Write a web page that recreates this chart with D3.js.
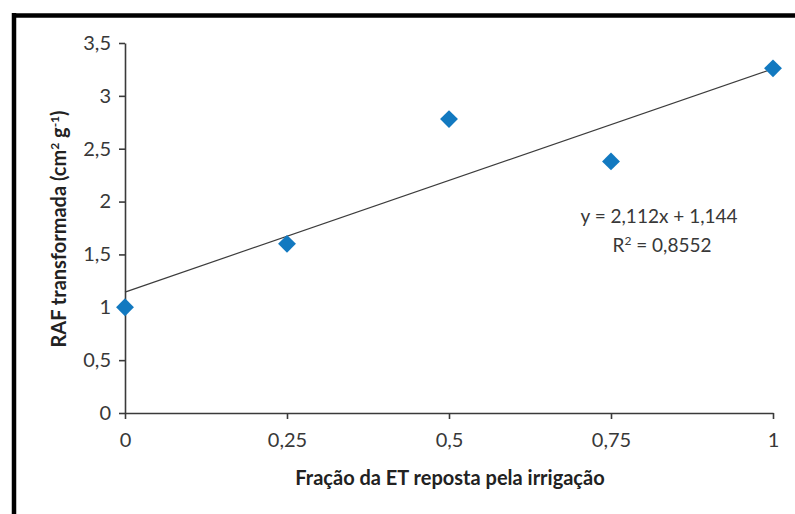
<!DOCTYPE html>
<html>
<head>
<meta charset="utf-8">
<script src="https://cdn.jsdelivr.net/npm/d3@7"></script>
<style>
  html, body { margin: 0; padding: 0; background: #fff; }
  svg { display: block; }
</style>
</head>
<body>
<svg id="chart" width="795" height="514"></svg>
<script>
// ---- data ----
const fractions = [0, 0.25, 0.5, 0.75, 1];
const rafValues = [1.0, 1.6, 2.78, 2.38, 3.26];
const xTicks = [0, 0.25, 0.5, 0.75, 1];
const yTicks = [0, 0.5, 1, 1.5, 2, 2.5, 3, 3.5];
const trendCoef = [2.112, 1.144]; // slope, intercept
const equationLines = ["y = 2,112x + 1,144", "0,8552"];
const xTitle = "Fração da ET reposta pela irrigação";
const yTitleParts = ["RAF transformada (cm", "2", " g", "-1", ")"];

const svg = d3.select("#chart");
const fmt = v => String(v).replace(".", ",");

// frame (thick black border at left and top)
svg.append("rect").attr("x", 0).attr("y", 0).attr("width", 795).attr("height", 514).attr("fill", "#fff");
svg.append("line").attr("x1", 14).attr("x2", 14).attr("y1", 13).attr("y2", 514)
  .attr("stroke", "#000").attr("stroke-width", 4.5);
svg.append("line").attr("x1", 12).attr("x2", 795).attr("y1", 15.5).attr("y2", 15.5)
  .attr("stroke", "#000").attr("stroke-width", 4.5);

const x = d3.scaleLinear().domain([0, 1]).range([125, 773]);
const y = d3.scaleLinear().domain([0, 3.5]).range([413, 43]);

const font = "Lato, 'Open Sans', sans-serif";
const axisColor = "#3a3a3a";

// y axis
const yAxis = svg.append("g").attr("transform", `translate(${x(0)},0)`)
  .call(d3.axisLeft(y).tickValues(yTicks).tickFormat(fmt).tickSize(6).tickSizeOuter(0).tickPadding(8));
// x axis
const xAxis = svg.append("g").attr("transform", `translate(0,${y(0)})`)
  .call(d3.axisBottom(x).tickValues(xTicks).tickFormat(fmt).tickSize(6).tickSizeOuter(0).tickPadding(14));

[yAxis, xAxis].forEach(g => {
  g.select(".domain").attr("stroke", axisColor).attr("stroke-width", 1.6);
  g.selectAll(".tick line").attr("stroke", axisColor).attr("stroke-width", 1.6);
  g.selectAll(".tick text").attr("fill", "#383838").style("font-family", font).style("font-size", "20px");
});

// trend line
const trend = xTicks.filter((d, i) => i === 0 || i === xTicks.length - 1)
  .map(v => [v, trendCoef[0] * v + trendCoef[1]]);
svg.append("path")
  .datum(trend)
  .attr("d", d3.line().x(d => x(d[0])).y(d => y(d[1])))
  .attr("fill", "none").attr("stroke", "#3c3c3c").attr("stroke-width", 1.2);

// points (diamonds)
const sym = d3.symbol().type(d3.symbolSquare).size(160);
svg.append("g").selectAll("path").data(fractions.map((f, i) => [f, rafValues[i]]))
  .join("path")
  .attr("d", sym)
  .attr("transform", d => `translate(${x(d[0])},${y(d[1])}) rotate(45)`)
  .attr("fill", "#1279c0");

// equation
const eqStyle = t => t.attr("text-anchor", "middle").style("font-family", font)
  .style("font-size", "19px").attr("fill", "#383838");
svg.append("text").attr("x", 659).attr("y", 223).call(eqStyle).text(equationLines[0]);
const r2 = svg.append("text").attr("x", 662).attr("y", 252).call(eqStyle);
r2.append("tspan").text("R");
r2.append("tspan").attr("dy", -7).style("font-size", "12px").text("2");
r2.append("tspan").attr("dy", 7).text(" = " + equationLines[1]);

// axis titles
svg.append("text").attr("x", 450).attr("y", 485).attr("text-anchor", "middle")
  .style("font-family", font).style("font-size", "20px").style("font-weight", "bold")
  .attr("fill", "#222").text(xTitle);
const yt = svg.append("text").attr("transform", "translate(66,229) rotate(-90)").attr("text-anchor", "middle")
  .style("font-family", font).style("font-size", "20px").style("font-weight", "bold")
  .attr("fill", "#222");
yTitleParts.forEach((p, i) => {
  const sup = i === 1 || i === 3;
  const t = yt.append("tspan").text(p);
  if (sup) t.attr("dy", -7).style("font-size", "12px");
  else if (i > 0) t.attr("dy", 7);
});
</script>
</body>
</html>
